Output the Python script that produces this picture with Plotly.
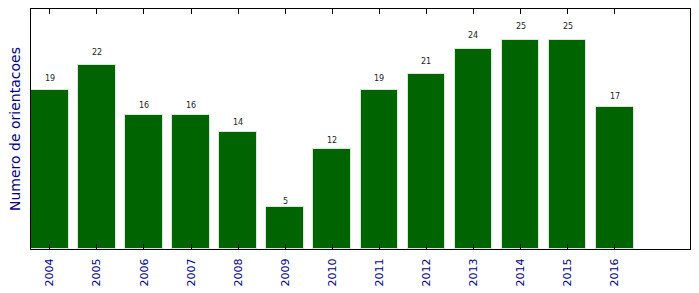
import plotly.graph_objects as go

years = ["2004", "2005", "2006", "2007", "2008", "2009", "2010", "2011", "2012", "2013", "2014", "2015", "2016"]
counts = [19, 22, 16, 16, 14, 5, 12, 19, 21, 24, 25, 25, 17]

idx = list(range(len(years)))

fig = go.Figure()
fig.add_trace(go.Bar(
    x=idx, y=counts, width=0.8,
    marker=dict(color="#006400", line=dict(color="#d8e8d8", width=1)),
    hoverinfo="skip",
))

for i, c in zip(idx, counts):
    fig.add_annotation(x=i, y=c * 1.05, text=str(c), showarrow=False,
                       yanchor="bottom", xanchor="center", yshift=-3,
                       font=dict(family="DejaVu Sans", size=8, color="#222222"))

fig.update_layout(
    width=699, height=293,
    margin=dict(l=31, r=9, t=9, b=44, autoexpand=False),
    paper_bgcolor="white", plot_bgcolor="white",
    showlegend=False,
    bargap=0,
)
fig.update_xaxes(
    range=[-0.4, 13.6], tickmode="array", tickvals=idx, ticktext=years,
    tickangle=-90, ticks="inside", ticklen=5, tickcolor="black",
    ticklabelstandoff=4, automargin=False,
    showline=True, linecolor="black", linewidth=1, mirror="ticks",
    showgrid=False, zeroline=False,
    tickfont=dict(family="DejaVu Sans", size=11, color="#00008b"),
)
fig.update_yaxes(
    range=[0, 28.75], showticklabels=False, ticks="", automargin=False,
    showline=True, linecolor="black", linewidth=1, mirror=True,
    showgrid=False, zeroline=False,
    title=dict(text="Numero de orientacoes", standoff=6,
               font=dict(family="DejaVu Sans", size=14, color="#00008b")),
)

fig.write_html("out.html")
